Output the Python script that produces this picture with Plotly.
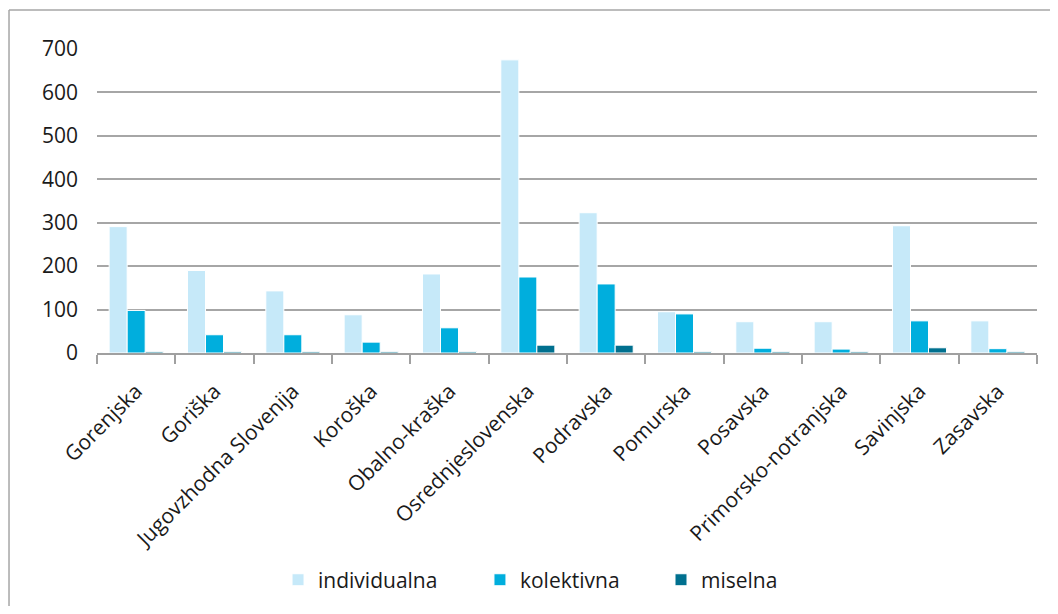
import plotly.graph_objects as go

categories = ["Gorenjska", "Goriška", "Jugovzhodna Slovenija", "Koroška", "Obalno-kraška",
              "Osrednjeslovenska", "Podravska", "Pomurska", "Posavska", "Primorsko-notranjska",
              "Savinjska", "Zasavska"]
individualna = [291, 190, 143, 88, 182, 675, 323, 95, 72, 72, 293, 74]
kolektivna = [98, 42, 42, 25, 58, 175, 159, 90, 11, 9, 74, 10]
miselna = [3, 3, 3, 3, 3, 18, 18, 3, 3, 3, 12, 3]
y_ticks = [0, 100, 200, 300, 400, 500, 600, 700]

series = [
    ("individualna", individualna, "#C6E9F9", "legend"),
    ("kolektivna", kolektivna, "#00AEDD", "legend2"),
    ("miselna", miselna, "#00708F", "legend3"),
]

FONT = "Open Sans"
fig = go.Figure()
for name, vals, col, lg in series:
    fig.add_trace(go.Bar(x=categories, y=vals, name=name, legend=lg, showlegend=True,
                         marker=dict(color=col, line=dict(color="white", width=1))))

leg_common = dict(orientation="h", yanchor="middle", y=-0.747, xanchor="left",
                  font=dict(family=FONT, size=21, color="#1a1a1a"),
                  itemwidth=30, bgcolor="rgba(0,0,0,0)")
fig.update_layout(
    width=1042, height=598,
    margin=dict(l=89, r=13, t=41, b=253, autoexpand=False),
    paper_bgcolor="white", plot_bgcolor="white",
    barmode="group", bargap=0.31, bargroupgap=0, showlegend=True,
    font=dict(family=FONT, size=20, color="#1a1a1a"),
    legend=dict(x=0.1926, **leg_common),
    legend2=dict(x=0.4074, **leg_common),
    legend3=dict(x=0.600, **leg_common),
    xaxis=dict(type="category", tickangle=-45, tickson="boundaries", ticks="outside",
               ticklen=9, tickcolor="#A0A0A0", tickwidth=1.5, ticklabelstandoff=16,
               showline=True, linecolor="#A0A0A0", linewidth=1.5, automargin=False,
               tickfont=dict(family=FONT, size=21, color="#1a1a1a"), showgrid=False),
    yaxis=dict(range=[0, 700], tickvals=y_ticks, showgrid=True, gridcolor="#A6A6A6",
               gridwidth=1.5, zeroline=False, ticks="", ticklabelstandoff=18, automargin=False,
               tickfont=dict(family=FONT, size=21, color="#1a1a1a")),
    shapes=[
        dict(type="line", xref="paper", yref="paper", x0=-0.0936, x1=-0.0936, y0=1.128, y1=-2,
             line=dict(color="#A6A6A6", width=1.5)),
        dict(type="line", xref="paper", yref="paper", x0=-0.0936, x1=1.2, y0=1.128, y1=1.128,
             line=dict(color="#A6A6A6", width=1.5)),
    ],
)
fig.write_html("out.html")
